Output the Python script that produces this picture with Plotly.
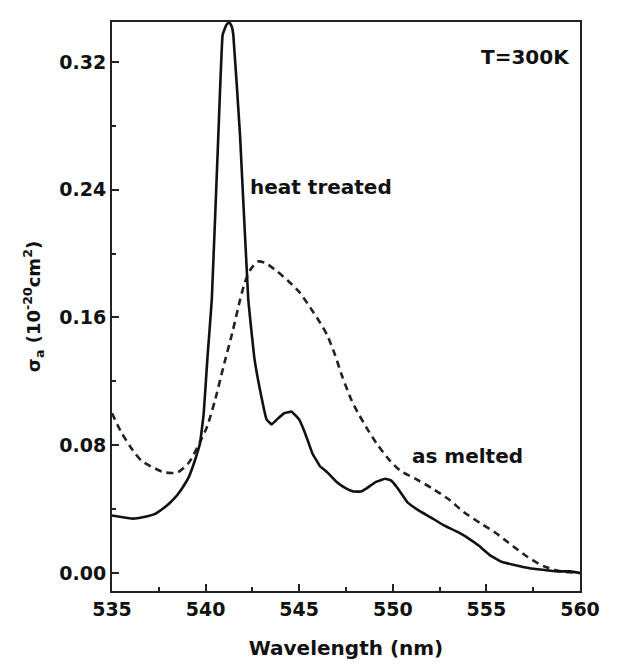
import plotly.graph_objects as go

# heat treated (solid)
ht_x = [535.0, 535.5, 536.1, 536.7, 537.3, 537.8, 538.1, 538.5, 538.8, 539.1, 539.3, 539.5,
        539.7, 539.9, 540.1, 540.33, 540.68, 540.91, 541.1, 541.26, 541.4, 541.48, 541.84,
        542.28, 542.6, 542.9, 543.26, 543.53, 543.8, 544.2, 544.6, 545.0, 545.3, 545.7,
        546.1, 546.5, 547.0, 547.5, 547.9, 548.3, 548.6, 549.1, 549.6, 549.9, 550.2, 550.5,
        550.8, 551.4, 552.0, 552.7, 553.4, 554.0, 554.6, 555.2, 555.8, 556.5, 557.3, 558.0,
        558.8, 559.5, 560.0]
ht_y = [0.036, 0.035, 0.034, 0.035, 0.037, 0.041, 0.044, 0.049, 0.054, 0.060, 0.066, 0.073,
        0.081, 0.100, 0.135, 0.171, 0.274, 0.337, 0.343, 0.345, 0.342, 0.337, 0.274,
        0.171, 0.135, 0.115, 0.096, 0.093, 0.096, 0.100, 0.101, 0.096, 0.088, 0.075,
        0.067, 0.063, 0.057, 0.053, 0.051, 0.051, 0.053, 0.057, 0.059, 0.058, 0.054, 0.049,
        0.044, 0.039, 0.035, 0.030, 0.026, 0.022, 0.017, 0.011, 0.007, 0.005, 0.003, 0.002,
        0.001, 0.001, 0.000]

# as melted (dashed)
am_x = [535.0, 535.5, 536.1, 536.6, 537.2, 537.8, 538.5, 539.1, 539.7, 540.06, 540.5, 540.95,
        541.46, 541.84, 542.1, 542.4, 542.8, 543.2, 543.8, 544.4, 545.0, 545.6, 546.1,
        546.49, 546.9, 547.3, 547.8, 548.2, 548.7, 549.2, 549.8, 550.4, 551.2, 552.1, 553.0,
        553.8, 554.7, 555.5, 556.4, 557.2, 558.1, 559.0, 560.0]
am_y = [0.100, 0.088, 0.077, 0.070, 0.066, 0.063, 0.063, 0.069, 0.082, 0.091, 0.108, 0.129,
        0.152, 0.171, 0.182, 0.190, 0.195, 0.194, 0.189, 0.183, 0.176, 0.166, 0.157,
        0.149, 0.137, 0.123, 0.108, 0.099, 0.089, 0.080, 0.071, 0.064, 0.059, 0.053, 0.046,
        0.038, 0.031, 0.025, 0.017, 0.010, 0.004, 0.001, 0.000]

x_ticks = [535, 540, 545, 550, 555, 560]
y_ticks = [0.00, 0.08, 0.16, 0.24, 0.32]
y_ticktext = ["0.00", "0.08", "0.16", "0.24", "0.32"]

FONT = "DejaVu Sans"

fig = go.Figure()
fig.add_trace(go.Scatter(x=am_x, y=am_y, mode="lines", name="as melted",
                         line=dict(color="#222222", width=2.6, dash="7px,5px", shape="spline", smoothing=0.7)))
fig.add_trace(go.Scatter(x=ht_x, y=ht_y, mode="lines", name="heat treated",
                         line=dict(color="#111111", width=2.6, shape="spline", smoothing=0.25)))

fig.add_annotation(x=546.16, y=0.2417, text="heat treated", showarrow=False,
                   font=dict(family=FONT, size=20, color="#111111", weight="bold"))
fig.add_annotation(x=554.0, y=0.073, text="as melted", showarrow=False,
                   font=dict(family=FONT, size=20, color="#111111", weight="bold"))
fig.add_annotation(x=557.1, y=0.323, text="T=300K", showarrow=False,
                   font=dict(family=FONT, size=20, color="#111111", weight="bold"))

fig.update_layout(
    width=620, height=669,
    margin=dict(l=112, r=40, t=22, b=78),
    paper_bgcolor="white", plot_bgcolor="white",
    showlegend=False,
    font=dict(family=FONT, color="#111111"),
)
fig.update_xaxes(
    range=[535, 560], tickvals=x_ticks, ticktext=[str(v) for v in x_ticks],
    ticks="inside", ticklen=7, tickwidth=1.5, tickcolor="#222222",
    minor=dict(ticks="inside", ticklen=4, tickwidth=1.5, dtick=2.5, tickcolor="#222222"),
    showline=True, linewidth=2, linecolor="#222222", mirror=True,
    showgrid=False, zeroline=False,
    tickfont=dict(family=FONT, size=19, weight="bold"),
    title=dict(text="Wavelength (nm)", font=dict(family=FONT, size=20, weight="bold"), standoff=22),
)
fig.update_yaxes(
    range=[-0.0113, 0.345], tickvals=y_ticks, ticktext=y_ticktext,
    ticks="inside", ticklen=7, tickwidth=1.5, tickcolor="#222222",
    minor=dict(ticks="inside", ticklen=4, tickwidth=1.5, dtick=0.04, tick0=0, tickcolor="#222222"),
    showline=True, linewidth=2, linecolor="#222222", mirror=True,
    showgrid=False, zeroline=False,
    tickfont=dict(family=FONT, size=19, weight="bold"),
    title=dict(text="σ<sub>a</sub> (10<sup>-20</sup>cm<sup>2</sup>)",
               font=dict(family=FONT, size=18, weight="bold"), standoff=14),
)

fig.write_html("out.html")
